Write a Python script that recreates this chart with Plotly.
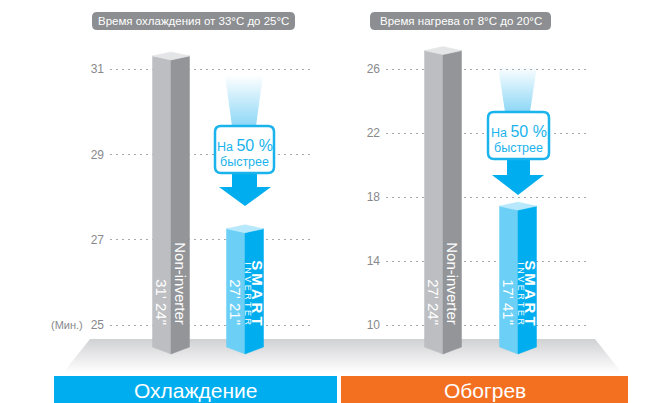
import plotly.graph_objects as go

W, H = 650, 403
OFF = 8  # the page body adds an 8px margin; the canvas is shifted to compensate

# ---- data ----
bar_names = ["Non-inverter", "SMART INVERTER"]
cool_minutes = [31.40, 27.35]
heat_minutes = [27.40, 17.68]
cool_time_labels = ["31' 24\"", "27' 21\""]
heat_time_labels = ["27' 24\"", "17' 41\""]
cool_ticks = [25, 27, 29, 31]
heat_ticks = [10, 14, 18, 22, 26]
panel_titles = ["Время охлаждения от 33°C до 25°C", "Время нагрева от 8°C до 20°C"]
mode_names = ["Охлаждение", "Обогрев"]
unit_label = "(Мин.)"

# ---- colours ----
GREY_FRONT, GREY_SIDE, GREY_TOP = "#BDBEC1", "#939598", "#E4E5E7"
BLUE_FRONT, BLUE_SIDE, BLUE_TOP = "#6CCFF6", "#00AEEF", "#B8E8FB"
TICK_COL = "#88898C"
GRID_COL = "#A7A9AC"
FONT = "Liberation Sans, Arial, sans-serif"

# panel geometry (screen pixels): axis domain, bar front edges, two tick pixel rows
panels = [
    dict(xdom=(110, 311), edges=(171, 245), t0=25, t1=31, py0=325, py1=69,
         values=cool_minutes, labels=cool_time_labels, ticks=cool_ticks),
    dict(xdom=(386, 587), edges=(443, 518), t0=10, t1=26, py0=325, py1=69,
         values=heat_minutes, labels=heat_time_labels, ticks=heat_ticks),
]
FLOOR_PY = 347      # outer bottom corners of the bars
BAR_PX = 18.5       # width of each visible face
TOP_TILT, BOT_TILT = 4, 7

fig = go.Figure()


def rounded(x0, y0, x1, y1, r):
    return (f"M {x0+r},{y0} L {x1-r},{y0} Q {x1},{y0} {x1},{y0+r} "
            f"L {x1},{y1-r} Q {x1},{y1} {x1-r},{y1} L {x0+r},{y1} "
            f"Q {x0},{y1} {x0},{y1-r} L {x0},{y0+r} Q {x0},{y0} {x0+r},{y0} Z")


# ---- decoration canvas (xy, screen pixel units) ----
# floor
fig.add_trace(go.Scatter(
    x=[90, 595, 622, 63, 90], y=[339, 339, 373, 373, 339],
    mode="lines", line=dict(width=0), fill="toself",
    fillgradient=dict(type="vertical", start=339, stop=373,
                      colorscale=[[0, "#D0D1D3"], [0.6, "#EDEDEE"], [1, "#FFFFFF"]]),
    hoverinfo="skip", showlegend=False, xaxis="x", yaxis="y"))

# glows above the arrows
for (xt0, xt1, yt, xb0, xb1, yb) in [(225, 263, 75, 232, 256, 126), (498, 537, 66, 505, 530, 112)]:
    fig.add_trace(go.Scatter(
        x=[xt0, xt1, xb1, xb0, xt0], y=[yt, yt, yb, yb, yt],
        mode="lines", line=dict(width=0), fill="toself",
        fillgradient=dict(type="vertical", start=yt, stop=yb,
                          colorscale=[[0, "#FFFFFF"], [1, "#8DD7F6"]]),
        hoverinfo="skip", showlegend=False, xaxis="x", yaxis="y"))

# ---- bars ----
for k, p in enumerate(panels):
    ax = str(k + 2)
    ppu_y = (p["py0"] - p["py1"]) / (p["t1"] - p["t0"])
    ppu_x = p["edges"][1] - p["edges"][0]
    p["ppu_y"], p["ppu_x"] = ppu_y, ppu_x
    w = BAR_PX / ppu_x
    tt = TOP_TILT / ppu_y
    tb = BOT_TILT / ppu_y
    b = p["t0"] - (FLOOR_PY - p["py0"]) / ppu_y
    for i, v in enumerate(p["values"]):
        front = GREY_FRONT if i == 0 else BLUE_FRONT
        side = GREY_SIDE if i == 0 else BLUE_SIDE
        top = GREY_TOP if i == 0 else BLUE_TOP
        polys = [
            ([i - w, i, i, i - w, i - w], [v - tt, v - 2 * tt, b - tb, b, v - tt], front),
            ([i, i + w, i + w, i, i], [v - 2 * tt, v - tt, b, b - tb, v - 2 * tt], side),
            ([i - w, i, i + w, i, i - w], [v - tt, v - 2 * tt, v - tt, v, v - tt], top),
        ]
        for xs, ys, col in polys:
            fig.add_trace(go.Scatter(
                x=xs, y=ys, mode="lines", fill="toself", fillcolor=col,
                line=dict(width=0.5, color=col), hoverinfo="skip",
                showlegend=False, xaxis="x" + ax, yaxis="y" + ax))

        # labels on the bars (rotated)
        if i == 0:
            fig.add_annotation(x=i + w / 2, y=p["t0"], xref="x" + ax, yref="y" + ax,
                               text=bar_names[0], textangle=90, showarrow=False,
                               xanchor="center", yanchor="bottom", yshift=-2,
                               font=dict(family=FONT, size=15, color="white"))
        else:
            fig.add_annotation(x=i + w / 2, y=p["t0"], xref="x" + ax, yref="y" + ax,
                               text="<b>S\u2009M\u2009A\u2009R\u2009T</b>", textangle=90,
                               showarrow=False, xanchor="center", yanchor="bottom",
                               xshift=3, yshift=-2,
                               font=dict(family=FONT, size=15, color="white"))
            fig.add_annotation(x=i + w / 2, y=p["t0"], xref="x" + ax, yref="y" + ax,
                               text="I N V E R T E R",
                               textangle=90, showarrow=False, xanchor="center",
                               yanchor="bottom", xshift=-6, yshift=-2,
                               font=dict(family=FONT, size=9, color="white"))
        fig.add_annotation(x=i - w / 2, y=p["t0"], xref="x" + ax, yref="y" + ax,
                           text=p["labels"][i], textangle=90, showarrow=False,
                           xanchor="center", yanchor="bottom", yshift=-2,
                           font=dict(family=FONT, size=15, color="white"))

# ---- shapes: banners, pills, arrows, boxes ----
shapes = []
shapes.append(dict(type="rect", xref="x", yref="y", x0=54, x1=337, y0=376, y1=412,
                   fillcolor="#00AEEF", line=dict(width=0), layer="above"))
shapes.append(dict(type="rect", xref="x", yref="y", x0=341, x1=628, y0=376, y1=412,
                   fillcolor="#F37021", line=dict(width=0), layer="above"))
shapes.append(dict(type="path", xref="x", yref="y", path=rounded(92, 12, 295, 30, 5),
                   fillcolor="#8C8E91", line=dict(width=0), layer="above"))
shapes.append(dict(type="path", xref="x", yref="y", path=rounded(370, 12, 551, 30, 5),
                   fillcolor="#8C8E91", line=dict(width=0), layer="above"))
arrows = [
    "M 232,170 L 257,170 L 257,187 L 271,187 L 245,206 L 219,187 L 232,187 Z",
    "M 507,156 L 530,156 L 530,175 L 544,175 L 518,195 L 492,175 L 507,175 Z",
]
for a in arrows:
    shapes.append(dict(type="path", xref="x", yref="y", path=a,
                       fillcolor="#00AEEF", line=dict(width=0), layer="above"))
for (x0, y0, x1, y1) in [(215, 126, 274, 173), (488, 112, 549, 159)]:
    shapes.append(dict(type="path", xref="x", yref="y", path=rounded(x0, y0, x1, y1, 6),
                       fillcolor="white", line=dict(width=2.5, color="#1BB3EC"), layer="above"))

# ---- text annotations on the canvas ----
fig.add_annotation(x=193.5, y=21, xref="x", yref="y", text=panel_titles[0], showarrow=False,
                   font=dict(family=FONT, size=11.5, color="white"))
fig.add_annotation(x=460.5, y=21, xref="x", yref="y", text=panel_titles[1], showarrow=False,
                   font=dict(family=FONT, size=11.5, color="white"))
fig.add_annotation(x=195.5, y=390, xref="x", yref="y", text=mode_names[0], showarrow=False,
                   font=dict(family=FONT, size=21, color="white"))
fig.add_annotation(x=484.5, y=390, xref="x", yref="y", text=mode_names[1], showarrow=False,
                   font=dict(family=FONT, size=21, color="white"))
for (cx, y0, y1) in [(244.5, 145, 162), (518.5, 131, 148)]:
    fig.add_annotation(x=cx, y=y0, xref="x", yref="y",
                       text="На <span style='font-size:16px'>50 %</span>", showarrow=False,
                       font=dict(family=FONT, size=12.5, color="#1BB3EC"))
    fig.add_annotation(x=cx, y=y1, xref="x", yref="y", text="быстрее", showarrow=False,
                       font=dict(family=FONT, size=12.5, color="#1BB3EC"))
fig.add_annotation(x=67, y=325, xref="x", yref="y", text=unit_label, showarrow=False,
                   font=dict(family=FONT, size=11, color=TICK_COL))

# ---- axes ----
layout_axes = dict(
    xaxis=dict(domain=[0, 1], range=[OFF, W + OFF], visible=False, fixedrange=True),
    yaxis=dict(domain=[0, 1], range=[H + OFF, OFF], visible=False, fixedrange=True),
)
for k, p in enumerate(panels):
    n = str(k + 2)
    x0, x1 = p["xdom"]
    e0 = p["edges"][0]
    # figure pixel rows run from OFF (top) to H + OFF (bottom) in screen terms
    y_lo = p["t0"] - (H + OFF - p["py0"]) / p["ppu_y"]
    y_hi = p["t0"] + (p["py0"] - OFF) / p["ppu_y"]
    layout_axes["xaxis" + n] = dict(
        domain=[(x0 - OFF) / W, (x1 - OFF) / W],
        range=[(x0 - e0) / p["ppu_x"], (x1 - e0) / p["ppu_x"]],
        anchor="y" + n, visible=False, fixedrange=True)
    layout_axes["yaxis" + n] = dict(
        domain=[0, 1], range=[y_lo, y_hi], anchor="x" + n,
        tickvals=p["ticks"], ticks="", showline=False, zeroline=False,
        showgrid=True, gridcolor=GRID_COL, gridwidth=1, griddash="2px,4px",
        ticklabelstandoff=5, fixedrange=True,
        tickfont=dict(family=FONT, size=12, color=TICK_COL))

fig.update_layout(
    width=W, height=H,
    margin=dict(l=0, r=0, t=0, b=0),
    paper_bgcolor="white", plot_bgcolor="rgba(0,0,0,0)",
    showlegend=False, shapes=shapes,
    **layout_axes,
)

fig.write_html("out.html")
